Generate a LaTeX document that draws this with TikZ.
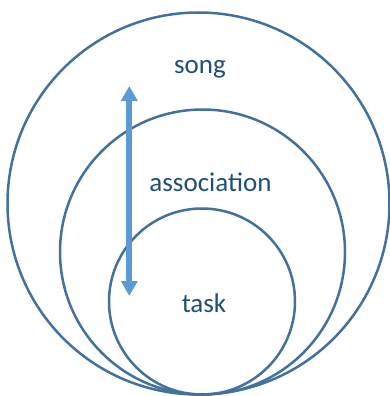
\documentclass[tikz,border=0pt]{standalone}
\usepackage{fontspec}
\setmainfont{Carlito}
\usetikzlibrary{arrows.meta}
\definecolor{ringc}{HTML}{41719C}
\definecolor{arrowc}{HTML}{5B9BD5}
\definecolor{textc}{HTML}{1F4E79}
\begin{document}
\begin{tikzpicture}[x=1pt,y=-1pt,
  ring/.style={draw=ringc,line width=2.5pt},
  lbl/.style={text=textc,font=\fontsize{27}{31}\selectfont,inner sep=0pt},
  dblarrow/.style={draw=arrowc,line width=6pt,{Triangle[width=16pt,length=15pt]}-{Triangle[width=16pt,length=15pt]}}]
\useasboundingbox (0,0) rectangle (390,396);
\node[ring,circle,minimum size=382pt,inner sep=0pt] (song) at (198.5,203.5) {};
\node[ring,circle,minimum size=285pt,inner sep=0pt] (assoc) at (202.5,252) {};
\node[ring,circle,minimum size=186pt,inner sep=0pt] (taskc) at (202,301.5) {};
\node[lbl] (songl) at (200,69) {song};
\node[lbl] (assocl) at (210.5,182) {association};
\node[lbl] (taskl) at (204,303) {task};
\coordinate (atop) at (129.3,86);
\coordinate (abot) at (129.3,296);
\draw[dblarrow] (abot) -- (atop);
\end{tikzpicture}
\end{document}
